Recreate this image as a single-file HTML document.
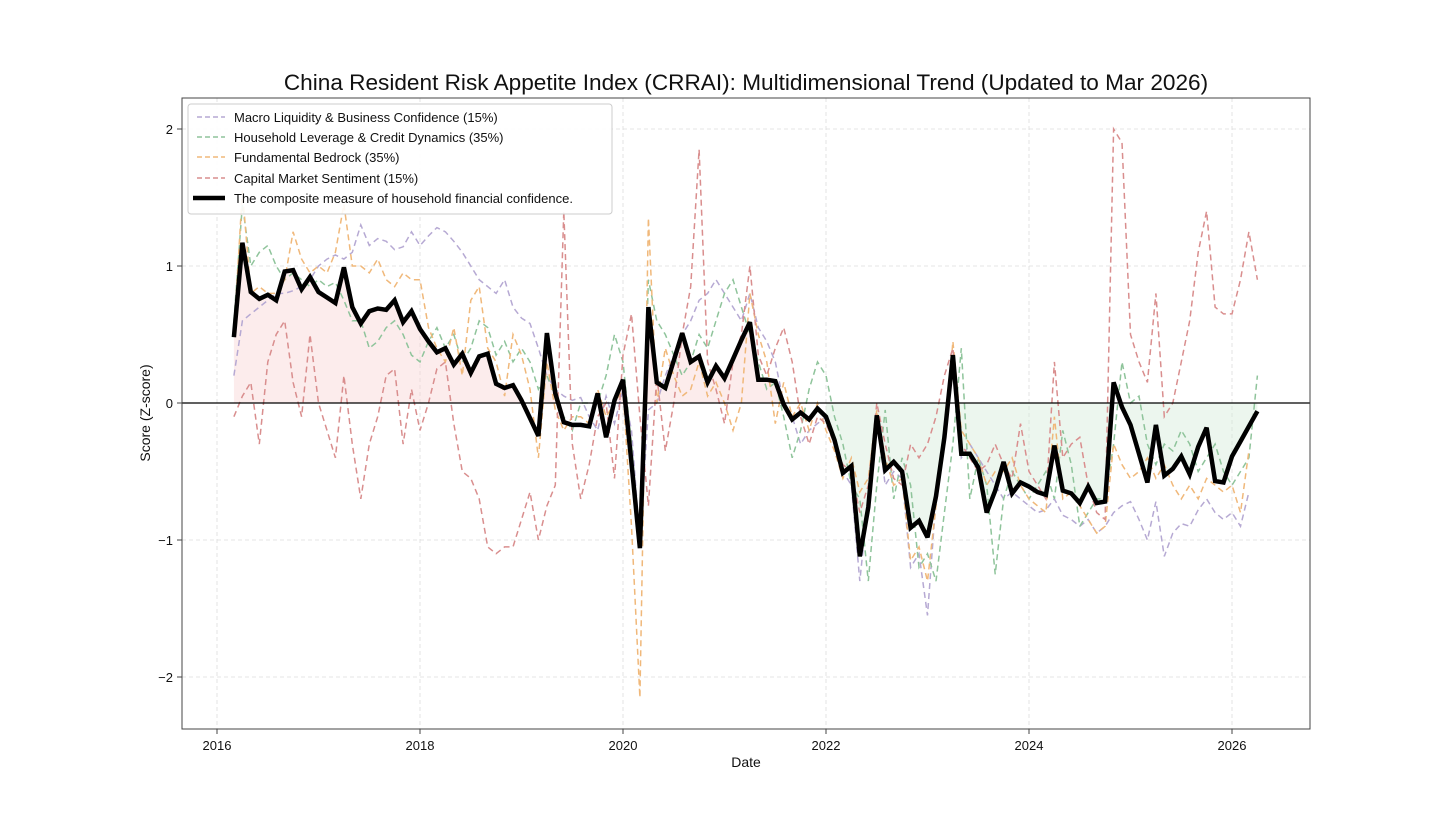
<!DOCTYPE html>
<html><head><meta charset="utf-8">
<style>
html,body{margin:0;padding:0;background:#fff;}
svg{display:block;font-family:"Liberation Sans",sans-serif;}
</style></head>
<body>
<svg id="chart" width="1456" height="819" viewBox="0 0 1456 819" xmlns="http://www.w3.org/2000/svg">
<defs>
<clipPath id="clipPos"><rect x="182" y="98" width="644" height="305"/></clipPath>
<clipPath id="clipNeg"><rect x="826" y="403" width="484" height="330"/></clipPath>
<clipPath id="plotClip"><rect x="182" y="98" width="1128" height="632"/></clipPath>
</defs>
<rect width="1456" height="819" fill="#fff"/>
<text x="746" y="90" text-anchor="middle" font-size="22.6" fill="#111">China Resident Risk Appetite Index (CRRAI): Multidimensional Trend (Updated to Mar 2026)</text>
<g id="grid"></g>
<g id="fills"></g>
<g id="series" clip-path="url(#plotClip)"></g>
<line x1="182" x2="1310" y1="403" y2="403" stroke="#000" stroke-width="1.3"/>
<rect x="182" y="98" width="1128" height="631" fill="none" stroke="#444" stroke-width="1"/>
<g id="axes"></g>
<text x="746" y="767" text-anchor="middle" font-size="14" fill="#111">Date</text>
<text transform="translate(150,413) rotate(-90)" text-anchor="middle" font-size="14" fill="#111">Score (Z-score)</text>
<g>
<rect x="188" y="104" width="424" height="110" rx="3" fill="#fff" fill-opacity="0.9" stroke="#ccc"/>
<g><line x1="197" x2="225" y1="117" y2="117" stroke="#b6a9d3" stroke-width="1.5" stroke-dasharray="5,3"/><text x="234" y="122" font-size="13" fill="#111">Macro Liquidity &amp; Business Confidence (15%)</text></g>
<g><line x1="197" x2="225" y1="137" y2="137" stroke="#8fc49b" stroke-width="1.5" stroke-dasharray="5,3"/><text x="234" y="142" font-size="13" fill="#111">Household Leverage &amp; Credit Dynamics (35%)</text></g>
<g><line x1="197" x2="225" y1="157" y2="157" stroke="#f0b87a" stroke-width="1.5" stroke-dasharray="5,3"/><text x="234" y="162" font-size="13" fill="#111">Fundamental Bedrock (35%)</text></g>
<g><line x1="197" x2="225" y1="178" y2="178" stroke="#d98e8e" stroke-width="1.5" stroke-dasharray="5,3"/><text x="234" y="183" font-size="13" fill="#111">Capital Market Sentiment (15%)</text></g>
<g><line x1="193" x2="225" y1="198" y2="198" stroke="#000" stroke-width="4.5"/><text x="234" y="203" font-size="13" fill="#111">The composite measure of household financial confidence.</text></g>
</g>
</svg>
<script>
const startMonth = 2; // months after Jan 2016
const yTicks = [-2, -1, 0, 1, 2];
const yTickLabels = ["\u22122", "\u22121", "0", "1", "2"];
const xTicks = [2016, 2018, 2020, 2022, 2024, 2026];
const composite = [0.48,1.17,0.81,0.76,0.79,0.75,0.96,0.97,0.83,0.92,0.81,0.77,0.73,0.99,0.70,0.58,0.67,0.69,0.68,0.75,0.59,0.67,0.54,0.45,0.37,0.40,0.28,0.36,0.22,0.34,0.36,0.14,0.11,0.13,0.02,-0.11,-0.24,0.51,0.07,-0.14,-0.16,-0.16,-0.17,0.07,-0.25,0.02,0.17,
-0.44,-1.06,0.70,0.15,0.11,0.31,0.51,0.30,0.34,0.15,0.27,0.18,0.32,0.46,0.59,0.17,0.17,0.16,-0.01,-0.12,-0.07,-0.12,-0.04,-0.10,-0.27,-0.51,-0.46,-1.12,-0.76,-0.09,-0.49,-0.43,-0.50,-0.91,-0.86,-0.98,-0.68,-0.25,
0.35,-0.37,-0.37,-0.47,-0.80,-0.64,-0.43,-0.66,-0.58,-0.61,-0.65,-0.67,-0.31,-0.64,-0.66,-0.73,-0.61,-0.73,-0.72,0.15,-0.03,-0.16,-0.37,-0.58,-0.16,-0.53,-0.48,-0.39,-0.52,-0.32,-0.18,-0.57,-0.58,-0.39,-0.28,-0.17,-0.06];
const macro = [0.2,0.6,0.65,0.7,0.75,0.8,0.8,0.82,0.85,0.9,1.0,1.05,1.08,1.05,1.1,1.3,1.15,1.2,1.18,1.12,1.14,1.25,1.15,1.22,1.28,1.25,1.18,1.1,1.0,0.9,0.85,0.8,0.9,0.7,0.62,0.58,0.4,0.2,0.1,0.05,0.02,0.04,-0.1,-0.2,0.05,-0.15,0.1,
-0.2,-1.0,-0.05,0.0,0.2,0.35,0.5,0.6,0.75,0.8,0.9,0.8,0.7,0.6,0.8,0.55,0.45,0.3,0.0,-0.1,-0.3,-0.2,-0.15,-0.1,-0.3,-0.5,-0.6,-1.3,-0.7,-0.1,-0.6,-0.5,-0.55,-1.2,-1.1,-1.55,-0.7,-0.15,
0.3,-0.4,-0.3,-0.4,-0.5,-0.6,-0.7,-0.65,-0.7,-0.75,-0.8,-0.78,-0.7,-0.82,-0.85,-0.9,-0.85,-0.95,-0.9,-0.8,-0.75,-0.72,-0.85,-1.0,-0.72,-1.12,-0.95,-0.88,-0.9,-0.78,-0.7,-0.8,-0.85,-0.8,-0.9,-0.65];
const household = [0.6,1.45,1.0,1.1,1.15,1.0,0.9,0.95,0.9,0.85,0.9,0.85,0.88,0.75,0.6,0.6,0.4,0.45,0.55,0.6,0.5,0.35,0.3,0.45,0.55,0.4,0.5,0.3,0.4,0.6,0.55,0.35,0.45,0.3,0.4,0.3,0.1,0.2,0.05,-0.1,-0.2,0.0,0.0,0.0,0.2,0.5,0.3,
-0.3,-1.0,0.9,0.6,0.5,0.35,0.2,0.3,0.5,0.4,0.6,0.8,0.9,0.7,0.5,0.3,0.1,0.15,-0.1,-0.4,-0.2,0.1,0.3,0.2,-0.1,-0.3,-0.6,-0.7,-1.3,-0.6,-0.05,-0.7,-0.4,-0.6,-1.2,-1.1,-1.3,-0.8,-0.3,
0.4,-0.7,-0.4,-0.6,-1.25,-0.7,-0.5,-0.6,-0.7,-0.6,-0.5,-0.7,-0.2,-0.45,-0.9,-0.8,-0.7,-0.7,-0.3,0.3,0.0,0.05,-0.3,-0.45,-0.3,-0.35,-0.2,-0.3,-0.5,-0.4,-0.3,-0.5,-0.6,-0.5,-0.4,0.2,-0.3];
const fundamental = [0.5,1.55,0.8,0.85,0.8,0.8,0.9,1.25,1.05,0.95,1.0,0.95,1.1,1.45,1.0,1.0,0.95,1.05,0.9,0.85,0.95,0.9,0.9,0.55,0.4,0.3,0.55,0.2,0.75,0.85,0.4,0.3,0.05,0.5,0.35,0.1,-0.4,0.3,-0.05,-0.2,-0.1,-0.1,-0.15,0.1,-0.1,0.0,0.1,
-0.9,-2.15,1.35,0.0,0.4,0.2,0.05,0.1,0.3,0.05,0.15,0.0,-0.2,0.0,0.8,0.5,0.3,-0.15,0.15,-0.1,0.0,-0.2,0.0,-0.2,-0.35,-0.55,-0.4,-0.65,-0.55,-0.05,-0.4,-0.6,-0.55,-1.15,-1.05,-1.3,-0.75,-0.3,
0.45,-0.2,-0.3,-0.4,-0.6,-0.5,-0.5,-0.4,-0.6,-0.7,-0.75,-0.8,-0.1,-0.7,-0.65,-0.75,-0.85,-0.95,-0.9,-0.3,-0.45,-0.55,-0.5,-0.4,-0.55,-0.45,-0.6,-0.7,-0.6,-0.7,-0.55,-0.6,-0.65,-0.6,-0.8,-0.35];
const capital = [-0.1,0.05,0.15,-0.3,0.3,0.5,0.6,0.15,-0.1,0.5,0.0,-0.2,-0.4,0.2,-0.3,-0.7,-0.3,-0.1,0.2,0.25,-0.3,0.1,-0.2,0.0,0.25,0.3,-0.15,-0.5,-0.55,-0.7,-1.05,-1.1,-1.05,-1.05,-0.85,-0.65,-1.0,-0.75,-0.6,1.4,-0.3,-0.7,-0.45,-0.1,0.0,-0.55,0.35,
0.65,-0.1,-0.75,0.2,-0.35,0.0,0.5,0.85,1.85,0.3,0.1,-0.15,0.3,0.5,1.0,0.35,0.2,0.4,0.55,0.3,-0.1,-0.3,-0.1,-0.15,-0.3,-0.45,-0.5,-0.8,-0.6,0.0,-0.3,-0.55,-0.6,-0.3,-0.4,-0.3,-0.1,0.2,
0.4,-0.3,-0.4,-0.5,-0.45,-0.3,-0.45,-0.55,-0.15,-0.5,-0.6,-0.7,0.3,-0.4,-0.3,-0.25,-0.6,-0.8,-0.85,2.0,1.9,0.5,0.3,0.15,0.8,-0.1,0.0,0.3,0.6,1.1,1.4,0.7,0.65,0.65,0.9,1.25,0.9];

const NS = "http://www.w3.org/2000/svg";
function xOfMonth(m){ return 217 + m * (101.5/12); }
function xOfYear(y){ return 217 + (y-2016) * 101.5; }
function yOf(v){ return 403 - v * 137; }
function mk(tag, attrs, parent){ const e=document.createElementNS(NS,tag); for(const k in attrs) e.setAttribute(k,attrs[k]); parent.appendChild(e); return e; }

const grid=document.getElementById('grid'), axes=document.getElementById('axes');
xTicks.forEach(function(t){
  const x=xOfYear(t);
  const g=mk('line',{x1:x,x2:x,y1:98,y2:729,stroke:'#ddd','stroke-dasharray':'4,3','stroke-width':0.8},grid);
  
  
  mk('line',{x1:x,x2:x,y1:729,y2:734,stroke:'#444'},axes);
  const l=mk('text',{x:x,y:750,'text-anchor':'middle','font-size':13,fill:'#111'},axes);
  l.textContent=String(t);
  
  
});
yTicks.forEach(function(t,i){
  const y=yOf(t);
  const g=mk('line',{x1:182,x2:1310,y1:y,y2:y,stroke:'#ddd','stroke-dasharray':'4,3','stroke-width':0.8},grid);
  
  
  mk('line',{x1:177,x2:182,y1:y,y2:y,stroke:'#444'},axes);
  const l=mk('text',{x:173,y:y+5,'text-anchor':'end','font-size':13,fill:'#111'},axes);
  l.textContent=yTickLabels[i];
  
  
});

function pts(arr){ return arr.slice(0, composite.length).map(function(v,i){ return xOfMonth(startMonth+i).toFixed(1)+','+yOf(v).toFixed(1); }); }

const fills=document.getElementById('fills');
const cp=pts(composite);
const first=xOfMonth(startMonth), last=xOfMonth(startMonth+composite.length-1);
const areaD='M'+first+','+yOf(0)+' L'+cp.join(' L')+' L'+last+','+yOf(0)+' Z';
const fp=mk('path',{d:areaD,fill:'#f8d0d0','fill-opacity':0.4,'clip-path':'url(#clipPos)'},fills);


const fn=mk('path',{d:areaD,fill:'#cfe8d5','fill-opacity':0.4,'clip-path':'url(#clipNeg)'},fills);



const series=document.getElementById('series');
const defs=[[macro,'#b6a9d3','macro-line'],[household,'#8fc49b','household-line'],[fundamental,'#f0b87a','fundamental-line'],[capital,'#d98e8e','capital-line']];
defs.forEach(function(d){
  const p=mk('polyline',{points:pts(d[0]).join(' '),fill:'none',stroke:d[1],'stroke-width':1.5,'stroke-dasharray':'6,4'},series);
  
  
});
const c=mk('polyline',{points:cp.join(' '),fill:'none',stroke:'#000','stroke-width':4.5,'stroke-linejoin':'miter','stroke-miterlimit':3},series);


</script>
</body></html>
